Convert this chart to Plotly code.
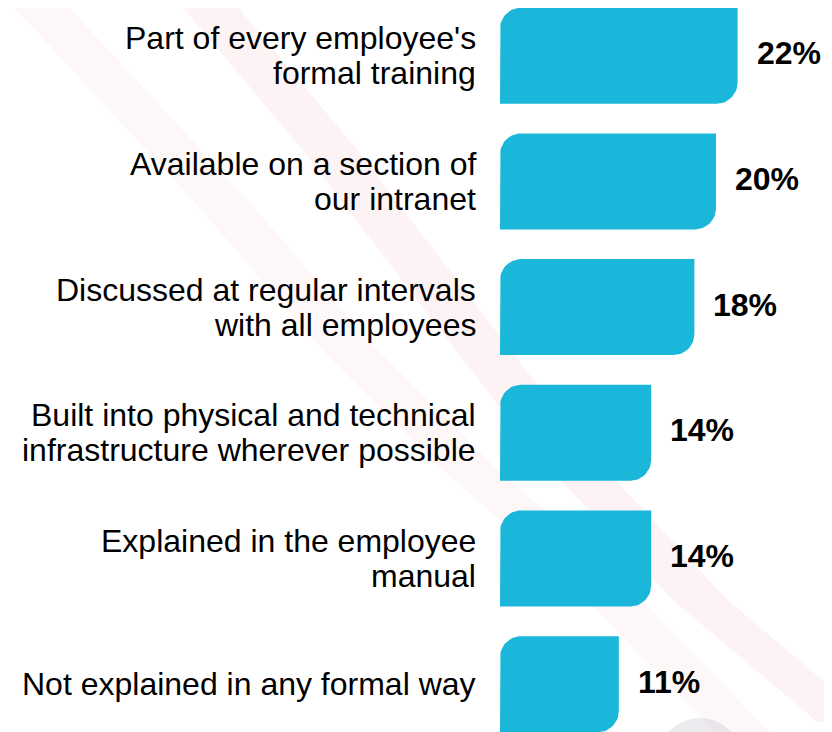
import numpy as np
import plotly.graph_objects as go

# ---- data ----
categories = [
    "Part of every employee's<br>formal training",
    "Available on a section of<br>our intranet",
    "Discussed at regular intervals<br>with all employees",
    "Built into physical and technical<br>infrastructure wherever possible",
    "Explained in the employee<br>manual",
    "Not explained in any formal way",
]
values = [22, 20, 18, 14, 14, 11]
value_labels = ["22%", "20%", "18%", "14%", "14%", "11%"]

# ---- layout geometry (page pixels) ----
PAGE_W, PAGE_H = 832, 732
OFF = 8                      # default body margin of the html page
W, H = PAGE_W - OFF, PAGE_H - OFF

BASE_PX = 500.0 - OFF        # figure pixel x of 0%
PX_PER_UNIT = 10.8           # pixels per percentage point
FIRST_CENTER = 55.7 - OFF    # figure pixel y of first bar centre
PITCH = 125.7                # pixel distance between bar centres
BAR_PX = 96.0                # bar thickness in pixels
RADIUS_PX = 21.0             # corner radius in pixels

x_range = [-BASE_PX / PX_PER_UNIT, (W - BASE_PX) / PX_PER_UNIT]
y_range = [(H - FIRST_CENTER) / PITCH, -FIRST_CENTER / PITCH]

BAR_COLOR = "#1ab7db"
FONT = "Liberation Sans, Arial, sans-serif"

rx = RADIUS_PX / PX_PER_UNIT
ry = RADIUS_PX / PITCH
h = BAR_PX / PITCH / 2.0
t = np.linspace(0, np.pi / 2, 16)

xs, ys = [], []
for i, v in enumerate(values):
    y_top, y_bot = i - h, i + h
    px, py = [0.0], [y_bot]
    cx, cy = rx, y_top + ry                      # top-left rounded corner
    px += list(cx - rx * np.cos(t))
    py += list(cy - ry * np.sin(t))
    px.append(v); py.append(y_top)               # top-right square corner
    cx, cy = v - rx, y_bot - ry                  # bottom-right rounded corner
    px += list(cx + rx * np.cos(t))
    py += list(cy + ry * np.sin(t))
    px.append(0.0); py.append(y_bot)
    xs += px + [None]
    ys += py + [None]

fig = go.Figure()
fig.add_trace(go.Scatter(
    x=xs, y=ys, mode="lines", fill="toself",
    fillcolor=BAR_COLOR, line=dict(width=0, color=BAR_COLOR),
    hoverinfo="skip", showlegend=False,
))

LABEL_RIGHT_PX = 474 - OFF + 4   # right edge of category text (+ annotation padding)
annotations = []
for i, (cat, v, lab) in enumerate(zip(categories, values, value_labels)):
    lines = cat.split("<br>")
    n = len(lines)
    for k, line in enumerate(lines):
        shift = ((n - 1) / 2.0 - k) * 34.8
        annotations.append(dict(
            x=(LABEL_RIGHT_PX - BASE_PX) / PX_PER_UNIT, y=i, xref="x", yref="y",
            text=line, showarrow=False, xanchor="right", yanchor="middle",
            yshift=shift, font=dict(family=FONT, size=32, color="#000000"),
        ))
    annotations.append(dict(
        x=v + 17 / PX_PER_UNIT, y=i, xref="x", yref="y",
        text="<b>" + lab + "</b>", showarrow=False, xanchor="left",
        yanchor="middle", yshift=2.5,
        font=dict(family=FONT, size=32, color="#000000"),
    ))

# faint decorative diagonal bands in the background (page pixel points)
shapes = []
band1 = [(200, -5), (330, 150), (460, 320), (560, 450), (700, 600), (845, 722)]
band2 = [(30, -5), (220, 200), (350, 350), (470, 470), (580, 565), (750, 740)]
for pts, op in ((band1, 0.055), (band2, 0.04)):
    ppts = [((x - OFF) / W, 1 - (y - OFF) / H) for x, y in pts]
    wpap = 55 / W
    left = " L".join(f"{x - wpap / 2:.4f},{y:.4f}" for x, y in ppts)
    right = " L".join(f"{x + wpap / 2:.4f},{y:.4f}" for x, y in reversed(ppts))
    shapes.append(dict(
        type="path", xref="paper", yref="paper",
        path="M" + left + " L" + right + " Z",
        fillcolor=f"rgba(225,40,60,{op})", line=dict(width=0), layer="below",
    ))
# faint globe at bottom right
gx, gy, gr = 700, 760, 42
shapes.append(dict(
    type="circle", xref="paper", yref="paper",
    x0=(gx - gr - OFF) / W, x1=(gx + gr - OFF) / W,
    y0=1 - (gy + gr - OFF) / H, y1=1 - (gy - gr - OFF) / H,
    fillcolor="rgba(175,175,195,0.25)", line=dict(width=0), layer="below",
))

fig.update_layout(
    width=W, height=H, autosize=False,
    margin=dict(l=0, r=0, t=0, b=0, pad=0),
    paper_bgcolor="white", plot_bgcolor="rgba(0,0,0,0)",
    xaxis=dict(range=x_range, visible=False, fixedrange=True),
    yaxis=dict(range=y_range, visible=False, fixedrange=True),
    annotations=annotations, shapes=shapes, showlegend=False,
)

fig.write_html("out.html")
